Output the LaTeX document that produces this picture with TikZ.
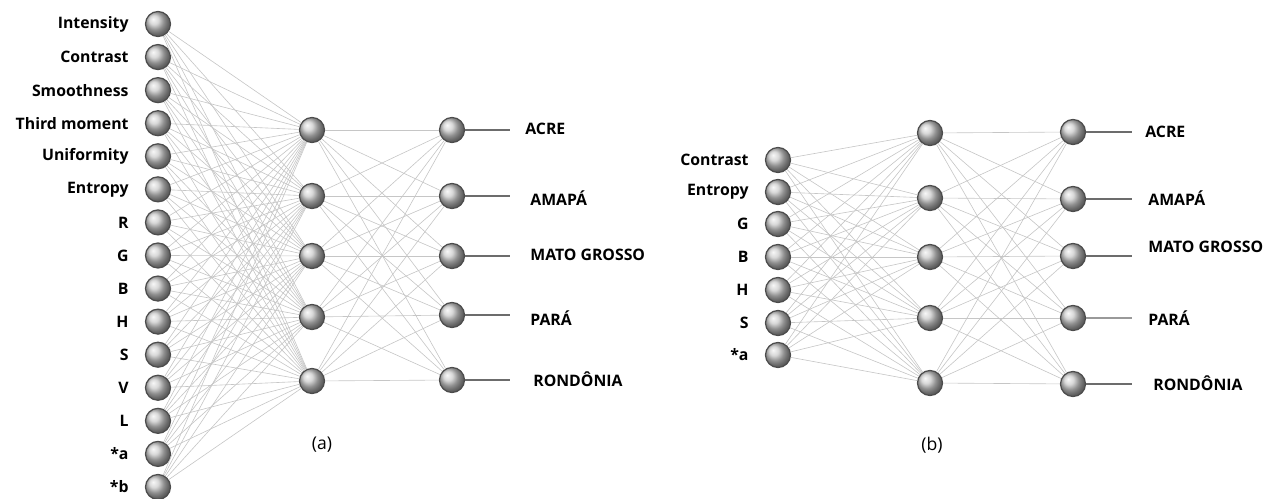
\documentclass[tikz,border=0pt]{standalone}
\usepackage{fontspec}
\setmainfont{Open Sans}
\usetikzlibrary{positioning}

\begin{document}
\begin{tikzpicture}[x=0.02cm,y=-0.02cm,
neuron/.style={circle,draw=black!70,line width=.7pt,shading=ball,ball color=gray!40,minimum size=.5cm,inner sep=0pt},
syn/.style={draw=gray!45,line width=.35pt},
outl/.style={draw=gray!85!black,line width=.8pt},
feat/.style={font=\bfseries\fontsize{9}{10}\selectfont,inner sep=0pt},
cls/.style={font=\bfseries\fontsize{9}{10}\selectfont,inner sep=0pt,anchor=west},
captxt/.style={font=\fontsize{10}{11}\selectfont}]
\useasboundingbox (0,0) rectangle (1281,499);

% ---- network (a): 15 inputs, 5 hidden, 5 outputs
\foreach \t [count=\i] in {Intensity,Contrast,Smoothness,Third moment,Uniformity,Entropy,R,G,B,H,S,V,L,*a,*b}{
  \node[neuron] (ia\i) at (158,{24+33.07*(\i-1)}) {};
  \node[feat,left=0.32cm of ia\i] (fa\i) {\t};
}
\foreach \y [count=\j] in {130,196,256,317,381}
  \node[neuron] (ha\j) at (312,\y) {};
\foreach \y [count=\j] in {130,196,256,315,380}{
  \node[neuron] (oa\j) at (452,\y) {};
  \coordinate (ea\j) at (510,\y);
}
\foreach \i in {1,...,15}
  \foreach \j in {1,...,5}
    \draw[syn] (ia\i) -- (ha\j);
\foreach \i in {1,...,5}
  \foreach \j in {1,...,5}
    \draw[syn] (ha\i) -- (oa\j);
\foreach \j in {1,...,5}
  \draw[outl] (oa\j) -- (ea\j);
\node[cls] (ca1) at (525,129) {ACRE};
\node[cls] (ca2) at (530,198) {AMAPÁ};
\node[cls] (ca3) at (530,255) {MATO GROSSO};
\node[cls] (ca4) at (530,318) {PARÁ};
\node[cls] (ca5) at (533,379) {RONDÔNIA};
\node[captxt] (capa) at (322,445) {(a)};

% ---- network (b): 7 inputs, 5 hidden, 5 outputs
\foreach \t/\y [count=\i] in {Contrast/160,Entropy/192,G/224,B/257,H/290,S/323,*a/355}{
  \node[neuron] (ib\i) at (778,\y) {};
  \node[feat,left=0.32cm of ib\i] (fb\i) {\t};
}
\foreach \y [count=\j] in {133,198,257,318,383}
  \node[neuron] (hb\j) at (930,\y) {};
\foreach \y [count=\j] in {132,199,256,318,384}{
  \node[neuron] (ob\j) at (1073,\y) {};
  \coordinate (eb\j) at (1132,\y);
}
\foreach \i in {1,...,7}
  \foreach \j in {1,...,5}
    \draw[syn] (ib\i) -- (hb\j);
\foreach \i in {1,...,5}
  \foreach \j in {1,...,5}
    \draw[syn] (hb\i) -- (ob\j);
\foreach \j in {1,2,3,5}
  \draw[outl] (ob\j) -- (eb\j);
\draw[outl,line width=1.6pt,gray!80] (ob4) -- (eb4);
\node[cls] (cb1) at (1145,132) {ACRE};
\node[cls] (cb2) at (1148,198) {AMAPÁ};
\node[cls] (cb3) at (1148,247) {MATO GROSSO};
\node[cls] (cb4) at (1148,318) {PARÁ};
\node[cls] (cb5) at (1153,383) {RONDÔNIA};
\node[captxt] (capb) at (932,445) {(b)};
\end{tikzpicture}
\end{document}
